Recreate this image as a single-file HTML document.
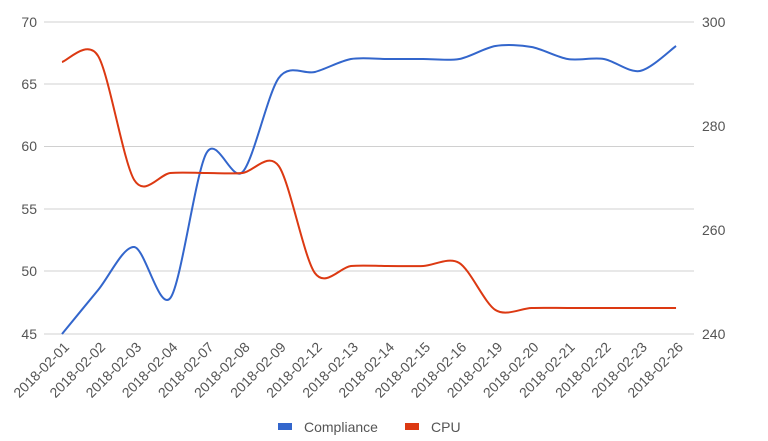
<!DOCTYPE html>
<html><head><meta charset="utf-8"><style>
body{margin:0;background:#fff;}
svg{display:block;font-family:"Liberation Sans",sans-serif;}
</style></head><body>
<svg id="c" width="768" height="441" xmlns="http://www.w3.org/2000/svg">
<g stroke="#d0d0d0" stroke-width="1">
<line x1="44" x2="694" y1="22" y2="22"/><line x1="44" x2="694" y1="84" y2="84"/>
<line x1="44" x2="694" y1="146.5" y2="146.5"/><line x1="44" x2="694" y1="209" y2="209"/>
<line x1="44" x2="694" y1="271" y2="271"/><line x1="44" x2="694" y1="334" y2="334"/>
</g>
<g fill="#555" font-size="14" text-anchor="end">
<text x="37" y="27">70</text><text x="37" y="89">65</text><text x="37" y="151">60</text>
<text x="37" y="214">55</text><text x="37" y="276">50</text><text x="37" y="339">45</text>
</g>
<g fill="#555" font-size="14">
<text x="702" y="27">300</text><text x="702" y="131">280</text>
<text x="702" y="235">260</text><text x="702" y="339">240</text>
</g>
<g id="xl" fill="#555" font-size="14" text-anchor="end"></g>
<path id="p1" fill="none" stroke="#3366cc" stroke-width="2"/>
<path id="p2" fill="none" stroke="#dc3912" stroke-width="2"/>
<rect x="278" y="423" width="14" height="7" fill="#3366cc"/>
<text x="304" y="432" font-size="14" fill="#555">Compliance</text>
<rect x="405" y="423" width="14" height="7" fill="#dc3912"/>
<text x="431" y="432" font-size="14" fill="#555">CPU</text>
</svg>
<script>
var labels=["2018-02-01","2018-02-02","2018-02-03","2018-02-04","2018-02-07","2018-02-08","2018-02-09","2018-02-12","2018-02-13","2018-02-14","2018-02-15","2018-02-16","2018-02-19","2018-02-20","2018-02-21","2018-02-22","2018-02-23","2018-02-26"];
var X=function(i){return 62+i*36.12;};
var g=document.getElementById("xl"),ns="http://www.w3.org/2000/svg";
labels.forEach(function(l,i){var t=document.createElementNS(ns,"text");var x=X(i)+8,y=348;
t.setAttribute("x",x);t.setAttribute("y",y);t.setAttribute("transform","rotate(-45 "+x+" "+y+")");t.textContent=l;g.appendChild(t);});
var c=[334,290,247,298,153,172,78,72,59,59,59,59,46,47,59,59,71,46];
var p=[62,56,180,173,173,173,166,273,266,266,266,263,310,308,308,308,308,308];
function path(ys){var pts=ys.map(function(y,i){return [X(i),y];});var d="M"+pts[0][0]+","+pts[0][1];
for(var i=0;i<pts.length-1;i++){var p0=pts[Math.max(i-1,0)],p1=pts[i],p2=pts[i+1],p3=pts[Math.min(i+2,pts.length-1)];var k=0.15;
d+=" C"+(p1[0]+(p2[0]-p0[0])*k)+","+(p1[1]+(p2[1]-p0[1])*k)+" "+(p2[0]-(p3[0]-p1[0])*k)+","+(p2[1]-(p3[1]-p1[1])*k)+" "+p2[0]+","+p2[1];}
return d;}
document.getElementById("p1").setAttribute("d",path(c));
document.getElementById("p2").setAttribute("d",path(p));
</script>
</body></html>
